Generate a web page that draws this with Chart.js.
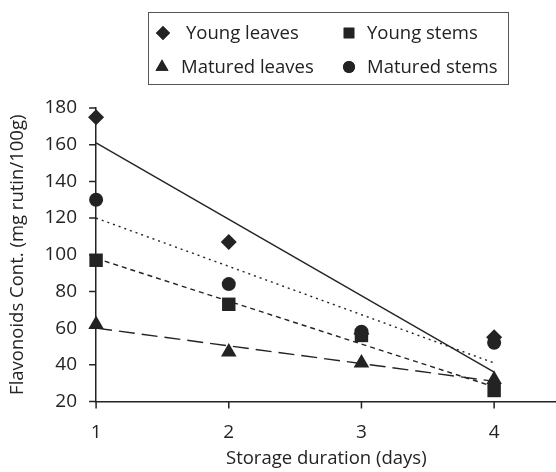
<!DOCTYPE html>
<html>
<head>
<meta charset="utf-8">
<script src="https://cdn.jsdelivr.net/npm/chart.js@4.4.1/dist/chart.umd.min.js"></script>
<style>
  html, body { margin: 0; padding: 0; background: #fff; overflow: hidden; }
  #wrap { position: relative; width: 556px; height: 472px; overflow: hidden; }
  #legend {
    position: absolute; left: 148px; top: 12px; width: 361px; height: 73px;
    border: 1px solid #555; box-sizing: border-box;
    font-family: "Open Sans", sans-serif; font-size: 18.5px; color: #222;
  }
  #legend span { position: absolute; line-height: 20px; white-space: nowrap; }
  #legend canvas { position: absolute; }
</style>
</head>
<body>
<div id="wrap">
  <canvas id="chart" width="566" height="472"></canvas>
  <div id="legend"></div>
</div>
<script>
const days = [1, 2, 3, 4];
const seriesNames = ['Young leaves', 'Young stems', 'Matured leaves', 'Matured stems'];
const youngLeaves = [175, 107, 57, 55];
const youngStems = [97, 73, 56, 26];
const maturedLeaves = [62, 47, 41, 32];
const maturedStems = [130, 84, 58, 52];
// trend line ends (value at day 1, value at day 4)
const trendYoungLeaves = [161, 36];
const trendYoungStems = [98, 28];
const trendMaturedLeaves = [60, 31];
const trendMaturedStems = [120, 41];
const yTicks = [20, 40, 60, 80, 100, 120, 140, 160, 180];
const xTicks = [1, 2, 3, 4];

const ink = '#232323';
const styles = ['rectRot', 'rect', 'triangle', 'circle'];
const radii = [8, 9.5, 9, 7];
const dashes = [[], [5, 4], [16, 7], [2, 4]];
const values = [youngLeaves, youngStems, maturedLeaves, maturedStems];
const trends = [trendYoungLeaves, trendYoungStems, trendMaturedLeaves, trendMaturedStems];

const datasets = [];
seriesNames.forEach((name, i) => {
  datasets.push({
    label: name,
    data: days.map((d, k) => ({ x: d, y: values[i][k] })),
    showLine: false,
    clip: false,
    pointStyle: styles[i],
    pointRadius: radii[i],
    pointBackgroundColor: ink,
    pointBorderColor: ink,
    pointBorderWidth: 0
  });
});
seriesNames.forEach((name, i) => {
  datasets.push({
    label: name + ' trend',
    data: [{ x: days[0], y: trends[i][0] }, { x: days[days.length - 1], y: trends[i][1] }],
    showLine: true,
    clip: false,
    borderColor: ink,
    borderWidth: 1.4,
    borderDash: dashes[i],
    pointRadius: 0
  });
});

const family = '"Open Sans", sans-serif';
const tickFont = { family, size: 19, lineHeight: 1 };
const titleFont = { family, size: 18.5, lineHeight: 1 };

// short outward tick marks on both axes, placed by the scales
const tickMarks = {
  id: 'tickMarks',
  afterDatasetsDraw(chart) {
    const ctx = chart.ctx;
    const x = chart.scales.x;
    const y = chart.scales.y;
    const area = chart.chartArea;
    ctx.save();
    ctx.strokeStyle = ink;
    ctx.lineWidth = 1.5;
    ctx.setLineDash([]);
    ctx.beginPath();
    xTicks.forEach(v => {
      const px = x.getPixelForValue(v);
      ctx.moveTo(px, area.bottom);
      ctx.lineTo(px, area.bottom + 7);
    });
    yTicks.forEach(v => {
      const py = y.getPixelForValue(v);
      ctx.moveTo(area.left - 7, py);
      ctx.lineTo(area.left, py);
    });
    ctx.stroke();
    ctx.restore();
  }
};

new Chart(document.getElementById('chart'), {
  type: 'scatter',
  data: { datasets },
  plugins: [tickMarks],
  options: {
    responsive: false,
    animation: false,
    layout: { padding: { top: 108, right: 0, left: 4, bottom: 1 } },
    plugins: { legend: { display: false }, tooltip: { enabled: false } },
    scales: {
      x: {
        type: 'linear',
        min: 1,
        max: 4.47,
        afterBuildTicks: s => { s.ticks = xTicks.map(v => ({ value: v })); },
        grid: { display: true, drawOnChartArea: false, drawTicks: true, tickLength: 15, tickColor: 'rgba(0,0,0,0)' },
        border: { color: ink, width: 1.5 },
        ticks: { color: ink, font: tickFont, padding: 7 },
        title: { display: true, text: 'Storage duration (days)', color: ink, font: titleFont, padding: { top: 0, bottom: 3 } }
      },
      y: {
        type: 'linear',
        min: 20,
        max: 180,
        afterBuildTicks: s => { s.ticks = yTicks.map(v => ({ value: v })); },
        grid: { display: true, drawOnChartArea: false, drawTicks: true, tickLength: 7, tickColor: 'rgba(0,0,0,0)' },
        border: { color: ink, width: 1.5 },
        ticks: { color: ink, font: tickFont, padding: 12 },
        title: { display: true, text: 'Flavonoids Cont. (mg rutin/100g)', color: ink, font: titleFont, padding: { bottom: 6 } }
      }
    }
  }
});

// boxed legend, two columns: marker centre and text start (relative to the box)
const legendSpots = [
  { mx: 14, my: 20, tx: 37 },
  { mx: 200, my: 20, tx: 218 },
  { mx: 13, my: 54, tx: 32 },
  { mx: 200, my: 54, tx: 218 }
];
const legendRadii = [7, 7.5, 7.5, 6];
const legend = document.getElementById('legend');
legendSpots.forEach((p, i) => {
  const c = document.createElement('canvas');
  c.width = 20; c.height = 20;
  c.style.left = (p.mx - 10) + 'px';
  c.style.top = (p.my - 10) + 'px';
  const g = c.getContext('2d');
  g.fillStyle = ink;
  Chart.helpers.drawPoint(g, { pointStyle: styles[i], radius: legendRadii[i], borderWidth: 0 }, 10, 10);
  g.fill();
  legend.appendChild(c);
  const t = document.createElement('span');
  t.textContent = seriesNames[i];
  t.style.left = p.tx + 'px';
  t.style.top = (p.my - 11) + 'px';
  legend.appendChild(t);
});
</script>
</body>
</html>
